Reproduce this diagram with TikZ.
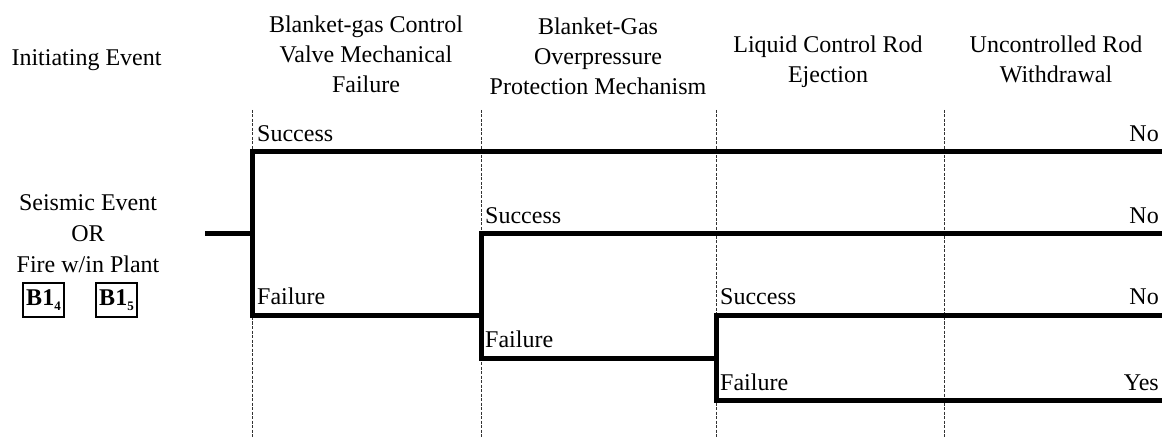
\documentclass[tikz,border=0pt]{standalone}
\usepackage{fontspec}
\setmainfont{Liberation Serif}
\begin{document}
\begin{tikzpicture}[x=1pt,y=-1pt,
  txt/.style={inner sep=0pt,anchor=base,font=\fontsize{24}{30}\selectfont},
  lbl/.style={inner sep=0pt,anchor=base west,font=\fontsize{24}{30}\selectfont},
  rlbl/.style={inner sep=0pt,anchor=base east,font=\fontsize{24}{30}\selectfont},
  divider/.style={line width=1pt,black!80,dash pattern=on 3pt off 1.5pt},
  branch/.style={line width=5pt,line join=miter},
  bbox/.style={draw,line width=1.5pt,inner sep=0pt,minimum width=41pt,minimum height=34pt,font=\fontsize{24}{30}\selectfont}]
\useasboundingbox (0,0) rectangle (1162,438);

% headers
\node[txt] (ie) at (86.5,66) {Initiating Event};
\node[txt] (h1a) at (366,33) {Blanket-gas Control};
\node[txt] (h1b) at (366,63) {Valve Mechanical};
\node[txt] (h1c) at (366,93) {Failure};
\node[txt] (h2a) at (598,35) {Blanket-Gas};
\node[txt] (h2b) at (598,65) {Overpressure};
\node[txt] (h2c) at (598,95) {Protection Mechanism};
\node[txt] (h3a) at (828,53) {Liquid Control Rod};
\node[txt] (h3b) at (828,83) {Ejection};
\node[txt] (h4a) at (1056,53) {Uncontrolled Rod};
\node[txt] (h4b) at (1056,83) {Withdrawal};

% initiating event
\node[txt] (se1) at (88,211) {Seismic Event};
\node[txt] (se2) at (88,242) {OR};
\node[txt] (se3) at (88,273) {Fire w/in Plant};
\node[bbox] (b14) at (43.5,300) {\textbf{B1}\raisebox{-5pt}{\fontsize{13}{13}\selectfont\bfseries 4}};
\node[bbox] (b15) at (116.5,300) {\textbf{B1}\raisebox{-5pt}{\fontsize{13}{13}\selectfont\bfseries 5}};

% dividers
\coordinate (d1t) at (252,110); \coordinate (d1b) at (252,438);
\coordinate (d2t) at (481,110); \coordinate (d2b) at (481,438);
\coordinate (d3t) at (716,110); \coordinate (d3b) at (716,438);
\coordinate (d4t) at (944,110); \coordinate (d4b) at (944,438);
\draw[divider] (d1t) -- (d1b);
\draw[divider] (d2t) -- (d2b);
\draw[divider] (d3t) -- (d3b);
\draw[divider] (d4t) -- (d4b);

% branch points
\coordinate (st) at (205,234);
\coordinate (j1) at (252,234);
\coordinate (j1s) at (252,152);
\coordinate (j1f) at (252,316);
\coordinate (e1) at (1175,152);
\coordinate (j2f0) at (481,316);
\coordinate (j2s) at (481,234);
\coordinate (j2f) at (481,358);
\coordinate (e2) at (1175,234);
\coordinate (j3m) at (716,358);
\coordinate (j3s) at (716,316);
\coordinate (j3f) at (716,400);
\coordinate (e3) at (1175,316);
\coordinate (e4) at (1175,400);

\draw[branch] (st) -- (j1);
\draw[branch] (e1) -- (j1s) -- (j1f) -- (j2f0);
\draw[branch] (e2) -- (j2s) -- (j2f) -- (j3m);
\draw[branch] (e3) -- (j3s) -- (j3f) -- (e4);

% branch labels
\node[lbl] (s1) at (257,142) {Success};
\node[lbl] (f1) at (257,305) {Failure};
\node[lbl] (s2) at (485,224) {Success};
\node[lbl] (f2) at (485,348) {Failure};
\node[lbl] (s3) at (720,305) {Success};
\node[lbl] (f3) at (720,390) {Failure};

% outcomes
\node[rlbl] (o1) at (1159,142) {No};
\node[rlbl] (o2) at (1159,224) {No};
\node[rlbl] (o3) at (1159,305) {No};
\node[rlbl] (o4) at (1159,390) {Yes};
\end{tikzpicture}
\end{document}
